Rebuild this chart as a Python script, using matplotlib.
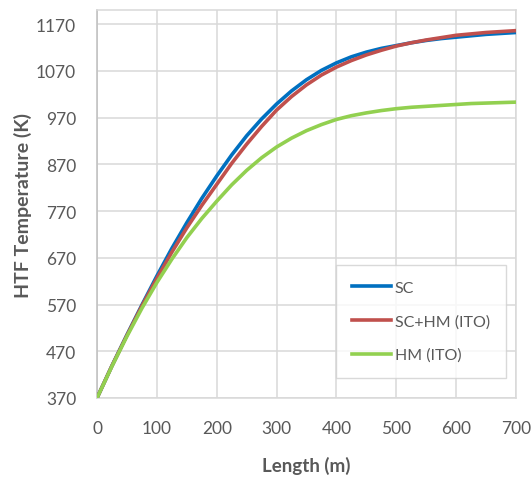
import matplotlib
matplotlib.use("Agg")
import matplotlib.pyplot as plt

plt.rcParams['font.family'] = ['Lato', 'DejaVu Sans']

length_m = [0, 25, 50, 75, 100, 125, 150, 175, 200, 225, 250, 275, 300,
            325, 350, 375, 400, 425, 450, 475, 500, 525, 550, 575, 600,
            625, 650, 675, 700]
sc = [370, 439, 505, 569, 631, 690, 745, 797, 845, 890, 931, 967, 999,
      1027, 1051, 1071, 1087, 1100, 1110, 1118, 1124, 1130, 1135, 1139, 1142,
      1145, 1148, 1150, 1152]
sc_hm_ito = [370, 439, 504, 567, 626, 682, 734, 782, 827, 872, 913, 951, 986,
             1015, 1040, 1061, 1078, 1092, 1104, 1114, 1123, 1130, 1136, 1141, 1146,
             1149, 1152, 1154, 1156]
hm_ito = [370, 438, 502, 562, 617, 667, 713, 754, 791, 826, 857, 884, 907,
          926, 942, 955, 966, 974, 980, 985, 989, 992, 994, 996, 998,
          1000, 1001, 1002, 1003]

x_ticks = [0, 100, 200, 300, 400, 500, 600, 700]
y_ticks = [370, 470, 570, 670, 770, 870, 970, 1070, 1170]

text_grey = '#595959'
grid_grey = '#d9d9d9'

fig = plt.figure(figsize=(5.31, 4.81), dpi=100)
ax = fig.add_axes([0.1827, 0.1705, 0.7891, 0.8065])

ax.plot(length_m, sc, color='#0070C0', lw=2.6, label='SC', zorder=3)
ax.plot(length_m, sc_hm_ito, color='#C0504D', lw=2.6, label='SC+HM (ITO)', zorder=3)
ax.plot(length_m, hm_ito, color='#92D050', lw=2.6, label='HM (ITO)', zorder=3)

ax.set_xlim(0, 700)
ax.set_ylim(370, 1200)
ax.set_xticks(x_ticks)
ax.set_yticks(y_ticks)
ax.grid(True, color=grid_grey, lw=1.1)
ax.set_axisbelow(True)
for side in ax.spines.values():
    side.set_color(grid_grey)
    side.set_linewidth(1.1)
ax.spines['left'].set_color('#bfbfbf')

ax.tick_params(length=0, labelsize=12.5, colors=text_grey)
ax.tick_params(axis='x', pad=16)
ax.tick_params(axis='y', pad=15)

ax.set_xlabel('Length (m)', fontsize=13.5, fontweight='bold', color=text_grey, labelpad=14)
ax.set_ylabel('HTF Temperature (K)', fontsize=14, fontweight='bold', color=text_grey, labelpad=3)

leg = ax.legend(loc='upper left', bbox_to_anchor=(0.570, 0.343), fontsize=11.5,
                frameon=True, fancybox=False, edgecolor='#d0d0d0',
                handlelength=2.45, handletextpad=0.25, labelspacing=1.2,
                borderpad=1.0, borderaxespad=0.0)
for t in leg.get_texts():
    t.set_color(text_grey)
leg.get_frame().set_linewidth(1.0)

fig.savefig('out.png', dpi=100)
